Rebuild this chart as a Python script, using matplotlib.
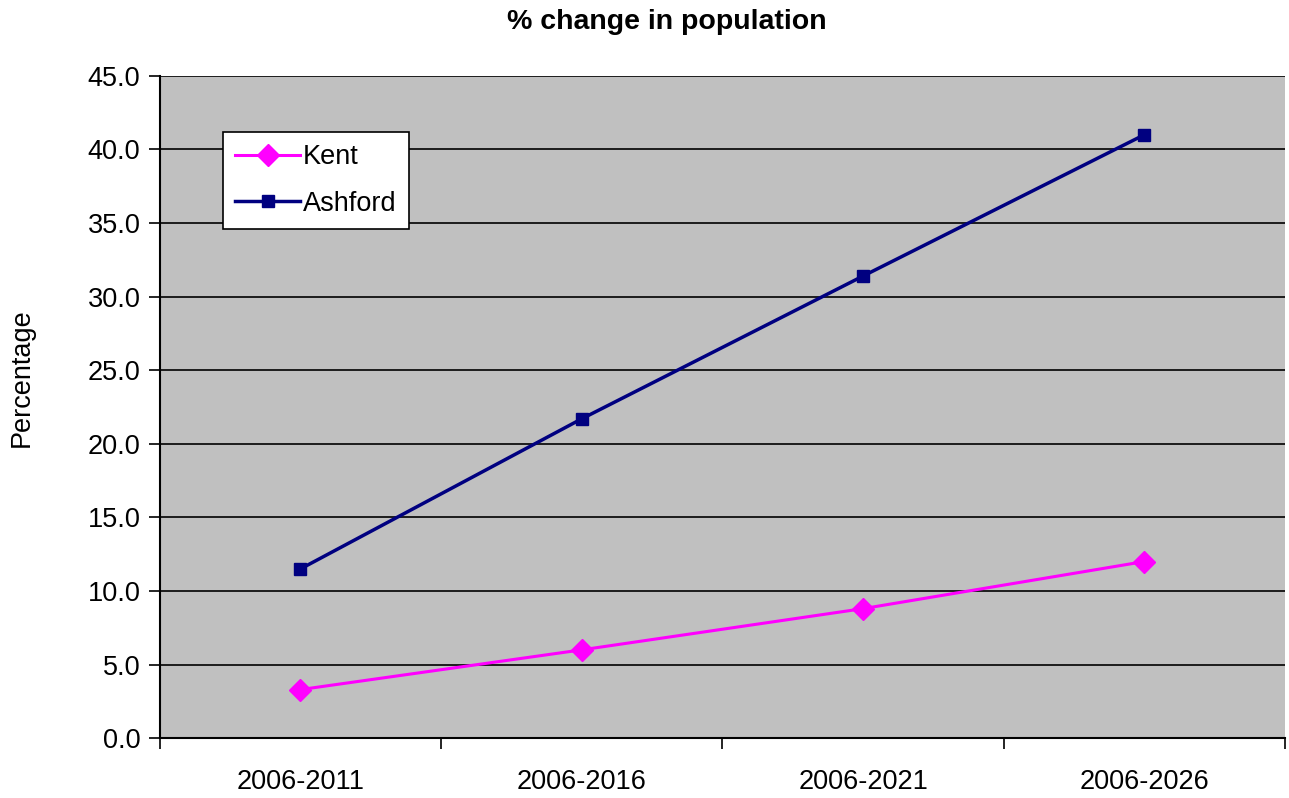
import numpy as np
import matplotlib
matplotlib.use("Agg")
import matplotlib.pyplot as plt

plt.rcParams['font.family'] = ['Liberation Sans', 'DejaVu Sans']

periods = ["2006-2011", "2006-2016", "2006-2021", "2006-2026"]
kent = [3.3, 6.0, 8.8, 12.0]
ashford = [11.5, 21.7, 31.4, 41.0]

fig = plt.figure(figsize=(12.89, 7.98), dpi=100)
ax = fig.add_axes([0.124, 0.075, 0.873, 0.830])
ax.set_facecolor("#c0c0c0")

x = np.arange(len(periods))
ax.plot(x, kent, color="#ff00ff", lw=2.2, marker="D", ms=11, label="Kent")
ax.plot(x, ashford, color="#000080", lw=2.5, marker="s", ms=8, label="Ashford")

ax.set_ylim(0, 45)
ax.set_xlim(-0.5, len(periods) - 0.5)
ax.set_yticks(np.arange(0, 46, 5))
ax.set_yticklabels([f"{v:.1f}" for v in np.arange(0, 46, 5)])
ax.yaxis.grid(True, color="black", lw=1.2)
ax.set_axisbelow(True)

ax.set_xticks(np.arange(-0.5, len(periods), 1))
ax.set_xticklabels([])
ax.set_xticks(x, minor=True)
ax.set_xticklabels(periods, minor=True)
ax.tick_params(axis="x", which="minor", length=0, pad=22, labelsize=19.5)
ax.tick_params(axis="x", which="major", length=8, width=1.2, direction="out")
ax.tick_params(axis="y", length=8, width=1.2, labelsize=19.5, pad=6)

for side in ["top", "right"]:
    ax.spines[side].set_visible(False)
for side in ["left", "bottom"]:
    ax.spines[side].set_linewidth(1.5)

ax.set_ylabel("Percentage", fontsize=19.5, labelpad=38, y=0.545)
fig.text(0.517, 0.972, "% change in population", fontsize=20.5, fontweight="bold",
         ha="center", va="center")

leg = ax.legend(loc="upper left", bbox_to_anchor=(0.056, 0.915), fontsize=19.5,
                frameon=True, fancybox=False, edgecolor="black", framealpha=1,
                handlelength=2.4, handletextpad=0.1, borderpad=0.45,
                labelspacing=0.75, borderaxespad=0)
leg.get_frame().set_linewidth(1.2)

fig.savefig("out.png", dpi=100)
